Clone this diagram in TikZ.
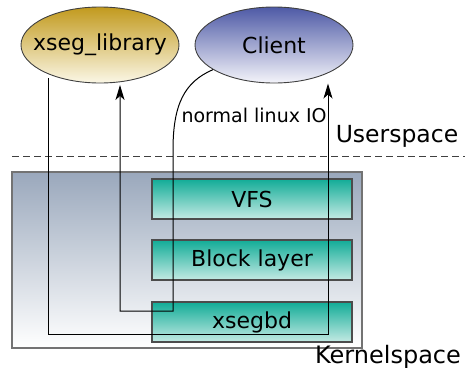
\documentclass[tikz,border=0pt]{standalone}
\usepackage{fontspec}
\setmainfont{DejaVu Sans}
\usetikzlibrary{arrows.meta,shapes.geometric}

\definecolor{gold}{HTML}{C29A1E}
\definecolor{cream}{HTML}{FBF7E6}
\definecolor{indigo}{HTML}{4E5AA6}
\definecolor{haze}{HTML}{F4F4FA}
\definecolor{slate}{HTML}{9AA8BC}
\definecolor{teal1}{HTML}{12AC97}
\definecolor{teal2}{HTML}{C4EAE4}

\tikzset{
  space/.style={ellipse, draw=black!75, line width=0.9pt, minimum width=158, minimum height=76, inner sep=0pt},
  spacetext/.style={font=\fontsize{22}{26}\selectfont},
  layer/.style={draw=black!70, line width=1.2pt, top color=teal1, bottom color=teal2, minimum width=200, minimum height=40, inner sep=0pt, font=\fontsize{22}{26}\selectfont},
  wire/.style={line width=1pt, black},
  tip/.style={-{Stealth[length=15pt, width=9pt, inset=4pt]}, shorten >=1.5pt}
}

\begin{document}
\begin{tikzpicture}[x=1pt, y=-1pt]
			%%%%% START %%%%%
			\useasboundingbox (0, 0) rectangle (465, 373);
			
			\draw[black!75, dash pattern=on 7pt off 4pt, line width=0.9pt] (12, 156) -- (465, 156);
			\node[anchor=center, font=\fontsize{23.5}{26}\selectfont] (user) at (397, 136) {Userspace};
			
			\node[draw=black!55, line width=1.4pt, top color=slate, bottom color=white, minimum width=350, minimum height=176, inner sep=0pt] (kernel) at (187, 260) {};
			\node[anchor=center, font=\fontsize{24}{26}\selectfont] (kname) at (388, 357) {Kernelspace};
			
			\node[layer] (vfs) at (252, 199) {VFS};
			\node[layer] (block) at (252, 260) {Block layer};
			\node[layer] (xsegbd) at (252, 322) {xsegbd};
			
			\node[space, top color=gold, bottom color=cream, label={[spacetext]center:xseg\_library}] (library) at (100, 45) {};
			\node[space, top color=indigo, bottom color=haze, label={[spacetext]center:Client}] (client) at (274, 45) {};
			
			\coordinate (c1) at (48, 334);
			\coordinate (c2) at (328, 334);
			\coordinate (c3) at (173, 311);
			\coordinate (c4) at (120, 311);
			
			\draw[wire, tip] (c1 |- library.220) -- (c1) -- (c2) -- (c2 |- client.300);
			\draw[wire, tip] (client.202) .. controls (184, 82) and (173, 105) .. (173, 150) -- (c3) -- (c4) -- (c4 |- library.south);
			
			\node[anchor=west, font=\fontsize{19}{22}\selectfont] (io) at (178, 115) {normal linux IO};
			%%%%% END %%%%%
		\end{tikzpicture}
\end{document}
